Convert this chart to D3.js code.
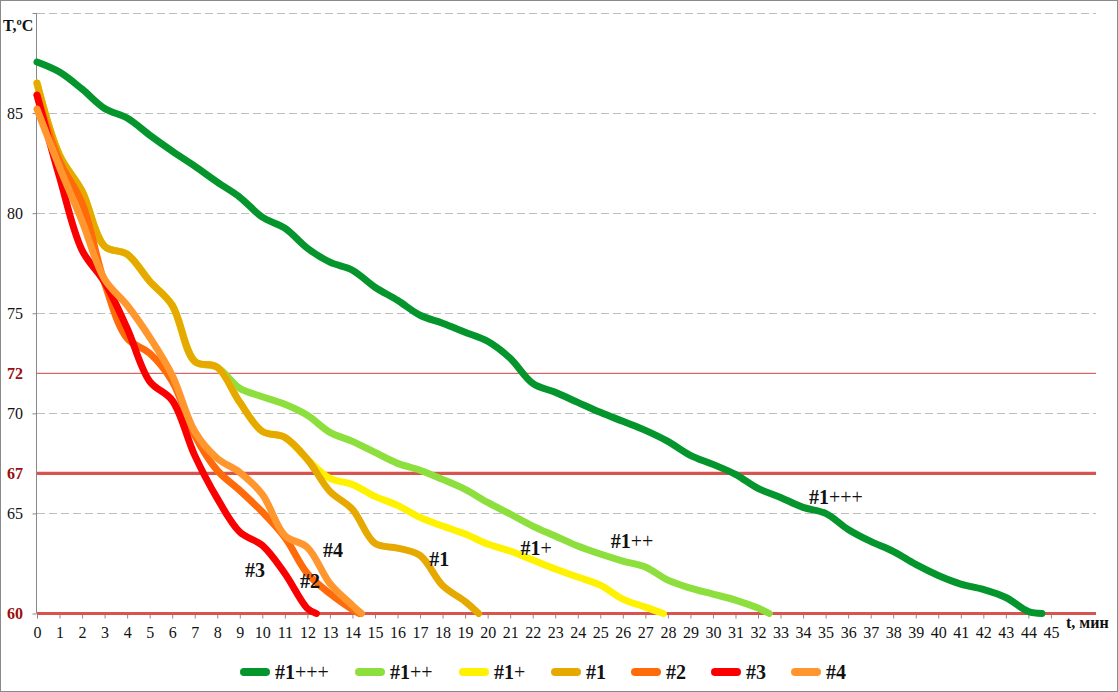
<!DOCTYPE html>
<html><head><meta charset="utf-8">
<script src="https://cdn.jsdelivr.net/npm/d3@7"></script>
<style>body{margin:0;background:#fff} svg{display:block}</style>
</head><body><svg id="c" width="1118" height="692"></svg>
<script>
// ---- data ----
const minuteTicks = [0,1,2,3,4,5,6,7,8,9,10,11,12,13,14,15,16,17,18,19,20,21,22,23,24,25,26,27,28,29,30,31,32,33,34,35,36,37,38,39,40,41,42,43,44,45];
const yTickValues = [60,65,67,70,72,75,80,85];
const gridValues = [65,70,75,80,85,90];
const limitValues = [60,67,72];
const seriesNames = ["#1+++","#1++","#1+","#1","#2","#3","#4"];
const seriesColors = ["#04952c","#8ddf3e","#fff200","#e6a900","#ff6a0a","#fa0000","#ff962e"];
// temperature at each whole minute (from t = 0)
const v1ppp = [87.55,87.05,86.2,85.23,84.75,83.9,83.1,82.35,81.55,80.8,79.8,79.25,78.25,77.55,77.15,76.3,75.65,74.9,74.5,74.05,73.6,72.75,71.5,71.05,70.55,70.05,69.6,69.15,68.6,67.9,67.45,66.95,66.25,65.8,65.3,65.0,64.2,63.6,63.1,62.45,61.9,61.47,61.2,60.8,60.1];
const v1pp  = [86.5,82.9,81.1,78.35,77.95,76.6,75.4,72.6,72.3,71.25,70.83,70.45,69.9,69.05,68.6,68.05,67.5,67.16,66.7,66.2,65.55,64.97,64.37,63.87,63.37,62.97,62.62,62.32,61.67,61.27,60.97,60.67,60.27];
const v1p   = [86.5,82.9,81.1,78.35,77.95,76.6,75.4,72.6,72.3,70.55,69.1,68.8,67.7,66.75,66.45,65.85,65.4,64.8,64.37,63.97,63.47,63.12,62.67,62.22,61.82,61.42,60.72,60.32];
const v1    = [86.5,82.9,81.1,78.35,77.95,76.6,75.4,72.6,72.3,70.55,69.1,68.8,67.7,66.1,65.2,63.5,63.27,62.9,61.4,60.6];
const v2    = [85.9,82.6,80.5,76.5,73.75,73.0,71.6,68.9,67.15,66.15,65.07,63.8,62.0,61.0,60.2];
const v3    = [85.9,81.8,78.15,76.55,74.25,71.6,70.65,67.9,65.75,64.07,63.4,62.0,60.25];
const v4    = [85.2,82.3,79.6,76.7,75.4,73.8,71.9,69.1,67.75,67.05,65.95,63.9,63.3,61.5,60.4];
const seriesValues = [v1ppp,v1pp,v1p,v1,v2,v3,v4];
// minute at which each run reached 60 °C
const endMinutes = [44.6,32.5,27.8,19.6,14.3,12.4,14.4];
const endTemp = 60;
// in-chart label anchors (minute, °C)
const labelMinutes = [35.46,26.41,22.15,17.85,12.12,9.68,13.14];
const labelTemps = [65.47,63.27,62.92,62.37,61.27,61.82,62.82];

// ---- layout ----
const W = 1118, H = 692;
const svg = d3.select("#c");
const FONT = "'Liberation Serif','Times New Roman',serif";
const x = d3.scaleLinear().domain([0,47]).range([37,1096]);
const y = d3.scaleLinear().domain([60,90]).range([613.5,13]);

svg.append("rect").attr("x",0.5).attr("y",0.5).attr("width",W-1).attr("height",H-1)
  .attr("fill","#fff").attr("stroke","#8a8a8a");

// grid
svg.append("g").selectAll("line").data(gridValues).join("line")
  .attr("x1",x(0)).attr("x2",x(47)).attr("y1",d=>Math.round(y(d))+0.5).attr("y2",d=>Math.round(y(d))+0.5)
  .attr("stroke","#bdbdbd").attr("stroke-dasharray","8,4");

// y axis
const yAxis = d3.axisLeft(y).tickValues([60,65,70,75,80,85,90]).tickSize(4).tickFormat("");
const gy = svg.append("g").attr("transform",`translate(${x(0)-0.5},0)`).call(yAxis);
gy.select(".domain").attr("stroke","#888").attr("d",`M0,${y(90)}V${y(60)}`);
gy.selectAll(".tick line").attr("stroke","#888");
svg.append("g").selectAll("text").data(yTickValues).join("text")
  .attr("x",23).attr("y",d=>y(d)).attr("dy","0.35em").attr("text-anchor","end")
  .attr("font-family",FONT).attr("font-size",16)
  .attr("font-weight",d=>limitValues.includes(d)?"bold":"normal")
  .attr("fill",d=>limitValues.includes(d)?"#9a0f0f":"#111")
  .text(d=>d);

// x axis
const xAxis = d3.axisBottom(x).tickValues(minuteTicks).tickSize(5).tickFormat(d=>d);
const gx = svg.append("g").attr("transform",`translate(0,${y(60)})`).call(xAxis);
gx.select(".domain").attr("stroke","#888").attr("d",`M${x(0)},0H${x(47)}`);
gx.selectAll(".tick line").attr("stroke","#888");
gx.selectAll(".tick text").attr("font-family",FONT).attr("font-size",16).attr("fill","#111")
  .attr("y",24).attr("dy",0);

// limit lines
svg.append("g").selectAll("line").data(limitValues).join("line")
  .attr("x1",x(0)).attr("x2",x(47)).attr("y1",d=>y(d)).attr("y2",d=>y(d))
  .attr("stroke",d=>d===72?"#d04040":"#d9534f").attr("stroke-width",d=>d===72?1:3.2);

// axis titles
svg.append("text").attr("x",3).attr("y",31).attr("font-family",FONT).attr("font-size",16)
  .attr("font-weight","bold").attr("fill","#111").text("T,ºC");
svg.append("text").attr("x",1066).attr("y",628).attr("font-family",FONT).attr("font-size",16)
  .attr("font-weight","bold").attr("fill","#111").text("t, мин");

// series
const line = d3.line().x(d=>x(d[0])).y(d=>y(d[1])).curve(d3.curveCatmullRom.alpha(0.5));
seriesValues.forEach((vals,i)=>{
  const pts = vals.map((v,k)=>[minuteTicks[k],v]);
  pts.push([endMinutes[i],endTemp]);
  svg.append("path").datum(pts).attr("d",line).attr("fill","none")
    .attr("stroke",seriesColors[i]).attr("stroke-width",7)
    .attr("stroke-linecap","round").attr("stroke-linejoin","round");
});

// in-chart labels
function labelText(sel,name){
  const m = name.match(/^(#\d)(\+*)$/);
  sel.append("tspan").attr("font-weight","bold").text(m[1]);
  if(m[2]) sel.append("tspan").attr("font-weight","normal").text(m[2]);
}
seriesNames.forEach((n,i)=>{
  const t = svg.append("text").attr("x",x(labelMinutes[i])).attr("y",y(labelTemps[i]))
    .attr("text-anchor","middle").attr("font-family",FONT).attr("font-size",20).attr("fill","#111");
  labelText(t,n);
});

// legend
const legendX = [240,355,459,551,631,711,791];
const lg = svg.append("g");
seriesNames.forEach((n,i)=>{
  lg.append("line").attr("x1",legendX[i]+4).attr("x2",legendX[i]+26).attr("y1",672).attr("y2",672)
    .attr("stroke",seriesColors[i]).attr("stroke-width",8).attr("stroke-linecap","round");
  const t = lg.append("text").attr("x",legendX[i]+35).attr("y",679)
    .attr("font-family",FONT).attr("font-size",20).attr("fill","#111");
  labelText(t,n);
});
</script></body></html>
